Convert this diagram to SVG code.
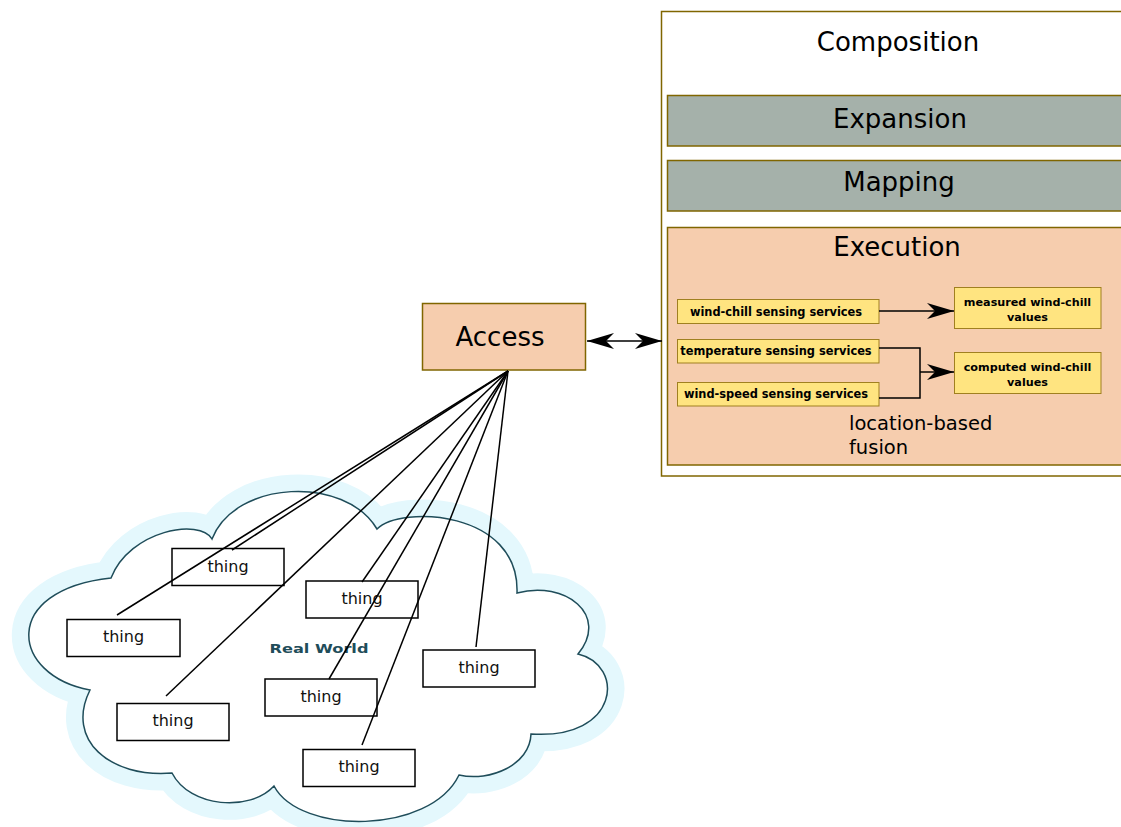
<svg xmlns="http://www.w3.org/2000/svg" width="1121" height="827" viewBox="0 0 1121 827">
<style>
text{font-family:"DejaVu Sans","Liberation Sans",sans-serif;fill:#000}
.big{font-size:26px;text-anchor:middle}
.olive{stroke:#806600;stroke-width:1.5}
.svc{fill:#ffe480;stroke:#a08020;stroke-width:1}
.svct{font-size:11.4px;font-weight:bold;text-anchor:middle}
.svct2{font-size:11.2px;font-weight:bold;text-anchor:middle}
.thing rect{fill:#fff;stroke:#000;stroke-width:1.5}
.thing text{font-size:16px;text-anchor:middle;fill:#111}
.conn{stroke:#000;stroke-width:1.5;fill:none}
</style>
<defs>
<marker id="ah" viewBox="-28 -9 29 18" refX="0" refY="0" markerWidth="29" markerHeight="18" markerUnits="userSpaceOnUse" orient="auto-start-reverse">
<path d="M0,0 L-27,-8 L-19,0 L-27,8 Z" fill="#000"/>
</marker>
</defs>
<rect width="1121" height="827" fill="#fff"/>

<g id="cloud">
<path d="M111,578 C130,530 200,518 212,539 C235,480 345,475 377,529 C400,505 520,510 517,593 C565,580 610,615 578,654 C625,665 620,740 531,734 C530,765 490,782 459,775 C430,835 300,835 274,786 C250,812 190,808 172,773 C110,778 65,740 90,690 C10,675 0,590 111,578 Z" fill="#fff" stroke="#e4f8fd" stroke-width="34" stroke-linejoin="round"/>
<path d="M111,578 C130,530 200,518 212,539 C235,480 345,475 377,529 C400,505 520,510 517,593 C565,580 610,615 578,654 C625,665 620,740 531,734 C530,765 490,782 459,775 C430,835 300,835 274,786 C250,812 190,808 172,773 C110,778 65,740 90,690 C10,675 0,590 111,578 Z" fill="#fff" stroke="#1f4d5a" stroke-width="1.5"/>
<text x="319" y="653" font-size="12.5" font-weight="bold" style="fill:#1f4d5a" text-anchor="middle" textLength="99" lengthAdjust="spacingAndGlyphs">Real World</text>
</g>

<g id="thing1" class="thing"><rect x="172" y="548.5" width="112" height="37"/><text x="228" y="572">thing</text></g>
<g id="thing2" class="thing"><rect x="67" y="619.5" width="113" height="37"/><text x="123.5" y="642">thing</text></g>
<g id="thing3" class="thing"><rect x="306" y="581" width="112" height="37"/><text x="362" y="604">thing</text></g>
<g id="thing4" class="thing"><rect x="423" y="650" width="112" height="37"/><text x="479" y="673">thing</text></g>
<g id="thing5" class="thing"><rect x="265" y="679" width="112" height="37"/><text x="321" y="702">thing</text></g>
<g id="thing6" class="thing"><rect x="117" y="703.5" width="112" height="37"/><text x="173" y="726">thing</text></g>
<g id="thing7" class="thing"><rect x="303" y="749.5" width="112" height="37"/><text x="359" y="772">thing</text></g>

<g id="access">
<rect x="422.5" y="303.5" width="163" height="66.5" fill="#f6cdae" class="olive"/>
<text x="500" y="346" class="big">Access</text>
</g>

<g id="composition">
<rect x="661.5" y="11.5" width="470" height="464.5" fill="#fff" class="olive"/>
<text x="898" y="51" class="big">Composition</text>
</g>
<g id="expansion">
<rect x="667.5" y="95.5" width="465" height="50.5" fill="#a5b1aa" class="olive"/>
<text x="900" y="128" class="big">Expansion</text>
</g>
<g id="mapping">
<rect x="667.5" y="160.5" width="465" height="50.5" fill="#a5b1aa" class="olive"/>
<text x="899" y="191" class="big">Mapping</text>
</g>
<g id="execution">
<rect x="667.5" y="227.5" width="465" height="237.5" fill="#f6cdae" class="olive"/>
<text x="897" y="256" class="big">Execution</text>
<text x="849" y="430" font-size="19.5">location-based</text>
<text x="849" y="454" font-size="19.5">fusion</text>
</g>

<g id="windchill"><rect x="677.5" y="299.5" width="201.5" height="24" class="svc"/><text x="776" y="315.5" class="svct">wind-chill sensing services</text></g>
<g id="temperature"><rect x="677.5" y="339.5" width="201.5" height="23.5" class="svc"/><text x="776" y="355" class="svct">temperature sensing services</text></g>
<g id="windspeed"><rect x="677.5" y="382.5" width="201.5" height="23.5" class="svc"/><text x="776" y="398" class="svct">wind-speed sensing services</text></g>
<g id="measured"><rect x="954.5" y="287.5" width="146.5" height="41" class="svc"/><text x="1027.5" y="306" class="svct2">measured wind-chill</text><text x="1027.5" y="320.5" class="svct2">values</text></g>
<g id="computed"><rect x="954.5" y="352.5" width="146.5" height="41" class="svc"/><text x="1027.5" y="371" class="svct2">computed wind-chill</text><text x="1027.5" y="385.5" class="svct2">values</text></g>

<g id="connectors">
<line x1="587" y1="341" x2="662" y2="341" class="conn" marker-start="url(#ah)" marker-end="url(#ah)"/>
<line x1="879" y1="311" x2="954" y2="311" class="conn" marker-end="url(#ah)"/>
<polyline points="879,348 920,348 920,398 879,398" class="conn"/>
<line x1="920" y1="372" x2="954" y2="372" class="conn" marker-end="url(#ah)"/>
<line x1="508" y1="371" x2="117" y2="615" class="conn"/>
<line x1="508" y1="371" x2="232" y2="550" class="conn"/>
<line x1="508" y1="371" x2="166" y2="696" class="conn"/>
<line x1="508" y1="371" x2="362" y2="582" class="conn"/>
<line x1="508" y1="371" x2="329" y2="679" class="conn"/>
<line x1="508" y1="371" x2="362" y2="745" class="conn"/>
<line x1="508" y1="371" x2="476" y2="647" class="conn"/>
</g>
</svg>
